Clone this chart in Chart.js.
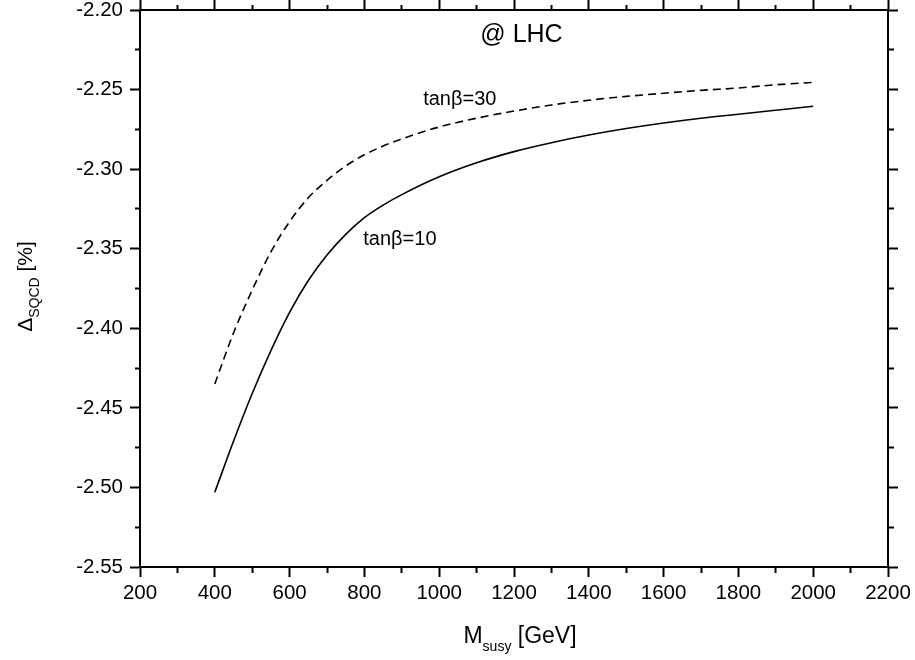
<!DOCTYPE html>
<html>
<head>
  <title>Delta SQCD @ LHC</title>
  <script src="https://cdn.jsdelivr.net/npm/chart.js"></script>
  <style>
    body { margin: 0; background: #fff; }
    canvas { display: block; }
  </style>
</head>
<body>
  <canvas id="chart" width="915" height="660"></canvas>
  <script>
    // M_susy in GeV
    const mSusy  = [400, 450, 500, 550, 600, 650, 700, 750, 800, 850, 900, 1000, 1100, 1200, 1300, 1400, 1500, 1600, 1700, 1800, 1900, 2000];
    // Delta_SQCD in %, tan(beta)=10 (solid)
    const tanb10 = [-2.503, -2.471, -2.441, -2.414, -2.390, -2.370, -2.354, -2.341, -2.3305, -2.3226, -2.316, -2.3048, -2.2960, -2.289, -2.2834, -2.2786, -2.2745, -2.271, -2.268, -2.2655, -2.263, -2.2605];
    // tan(beta)=30 (dashed)
    const tanb30 = [-2.435, -2.403, -2.376, -2.352, -2.333, -2.318, -2.307, -2.298, -2.291, -2.2855, -2.281, -2.2735, -2.268, -2.2635, -2.2597, -2.2567, -2.2543, -2.2523, -2.2505, -2.249, -2.247, -2.2455];

    const xRange = [200, 2200];
    const yRange = [-2.55, -2.20];

    const FONT = '"Liberation Sans", Arial, sans-serif';

    // text labels placed in data coordinates
    const notes = [
      { text: '@ LHC',   x: 1220, y: -2.2155, size: 25 },
      { text: 'tan\u03b2=30', x: 1055, y: -2.2563, size: 20 },
      { text: 'tan\u03b2=10', x: 895,  y: -2.3444, size: 20 }
    ];

    const isMajorX = v => Math.round(v) % 200 === 0;
    const isMajorY = v => Math.round(Math.abs(v) * 1000) % 50 === 0;

    // minor ticks: dash cuts the 10px tick to about half
    function axisOpts(pos, isMajor, extra) {
      const outerFirst = (pos === 'left' || pos === 'top');
      return Object.assign({
        type: 'linear',
        position: pos,
        border: { display: true, width: 2, color: '#000' },
        grid: {
          display: true,
          drawOnChartArea: false,
          drawTicks: true,
          tickLength: 10,
          tickWidth: 2,
          tickColor: '#000',
          tickBorderDash: ctx => isMajor(ctx.tick.value) ? [] : [5, 5],
          tickBorderDashOffset: ctx => (!isMajor(ctx.tick.value) && outerFirst) ? 5 : 0
        }
      }, extra);
    }

    const notesPlugin = {
      id: 'notes',
      afterDatasetsDraw(chart) {
        const ctx = chart.ctx;
        const sx = chart.scales.x, sy = chart.scales.y;
        ctx.save();
        ctx.fillStyle = '#000';
        ctx.textAlign = 'center';
        ctx.textBaseline = 'middle';
        notes.forEach(n => {
          ctx.font = n.size + 'px ' + FONT;
          ctx.fillText(n.text, sx.getPixelForValue(n.x), sy.getPixelForValue(n.y));
        });
        ctx.restore();
      }
    };

    // axis titles need subscripts, so draw them piece by piece
    function drawParts(ctx, parts, cx, cy) {
      let total = 0;
      parts.forEach(p => { ctx.font = p[1] + 'px ' + FONT; total += ctx.measureText(p[0]).width; });
      let x = cx - total / 2;
      parts.forEach(p => {
        ctx.font = p[1] + 'px ' + FONT;
        ctx.fillText(p[0], x, cy + p[2]);
        x += ctx.measureText(p[0]).width;
      });
    }

    const titlesPlugin = {
      id: 'titles',
      afterDraw(chart) {
        const ctx = chart.ctx;
        const area = chart.chartArea;
        ctx.save();
        ctx.fillStyle = '#000';
        ctx.textAlign = 'left';
        ctx.textBaseline = 'alphabetic';
        drawParts(ctx, [['M', 23, 0], ['susy', 14, 8], [' [GeV]', 23, 0]], (area.left + area.right) / 2 + 6, 643);
        ctx.translate(32, (area.top + area.bottom) / 2 - 2);
        ctx.rotate(-Math.PI / 2);
        drawParts(ctx, [['\u0394', 21, 0], ['SQCD', 14, 7], [' [%]', 21, 0]], 0, 0);
        ctx.restore();
      }
    };

    const ctx = document.getElementById('chart').getContext('2d');
    new Chart(ctx, {
      type: 'line',
      data: {
        datasets: [
          {
            label: 'tanb=10',
            data: mSusy.map((m, i) => ({ x: m, y: tanb10[i] })),
            borderColor: '#000',
            borderWidth: 1.6,
            pointRadius: 0,
            cubicInterpolationMode: 'monotone'
          },
          {
            label: 'tanb=30',
            data: mSusy.map((m, i) => ({ x: m, y: tanb30[i] })),
            borderColor: '#000',
            borderWidth: 1.6,
            borderDash: [8, 5],
            pointRadius: 0,
            cubicInterpolationMode: 'monotone'
          }
        ]
      },
      options: {
        responsive: false,
        animation: false,
        devicePixelRatio: 1,
        layout: { padding: 0 },
        plugins: {
          legend: { display: false },
          tooltip: { enabled: false }
        },
        scales: {
          x: axisOpts('bottom', isMajorX, {
            min: xRange[0], max: xRange[1],
            ticks: {
              stepSize: 100, autoSkip: false, maxRotation: 0, padding: 4,
              color: '#000', font: { family: FONT, size: 20.5 },
              callback: v => isMajorX(v) ? String(v) : ''
            },
            afterFit: s => { s.height = 93; }
          }),
          x2: axisOpts('top', isMajorX, {
            axis: 'x',
            min: xRange[0], max: xRange[1],
            ticks: { display: false, stepSize: 100, autoSkip: false },
            afterFit: s => { s.height = 10; }
          }),
          y: axisOpts('left', isMajorY, {
            min: yRange[0], max: yRange[1],
            ticks: {
              stepSize: 0.025, autoSkip: false, padding: 7,
              color: '#000', font: { family: FONT, size: 20.5 },
              callback: v => isMajorY(v) ? v.toFixed(2) : ''
            },
            afterFit: s => { s.width = 140; s.paddingTop = 0; s.paddingBottom = 0; }
          }),
          y2: axisOpts('right', isMajorY, {
            axis: 'y',
            min: yRange[0], max: yRange[1],
            ticks: { display: false, stepSize: 0.025, autoSkip: false },
            afterFit: s => { s.width = 27; s.paddingTop = 0; s.paddingBottom = 0; }
          })
        }
      },
      plugins: [notesPlugin, titlesPlugin]
    });
  </script>
</body>
</html>
